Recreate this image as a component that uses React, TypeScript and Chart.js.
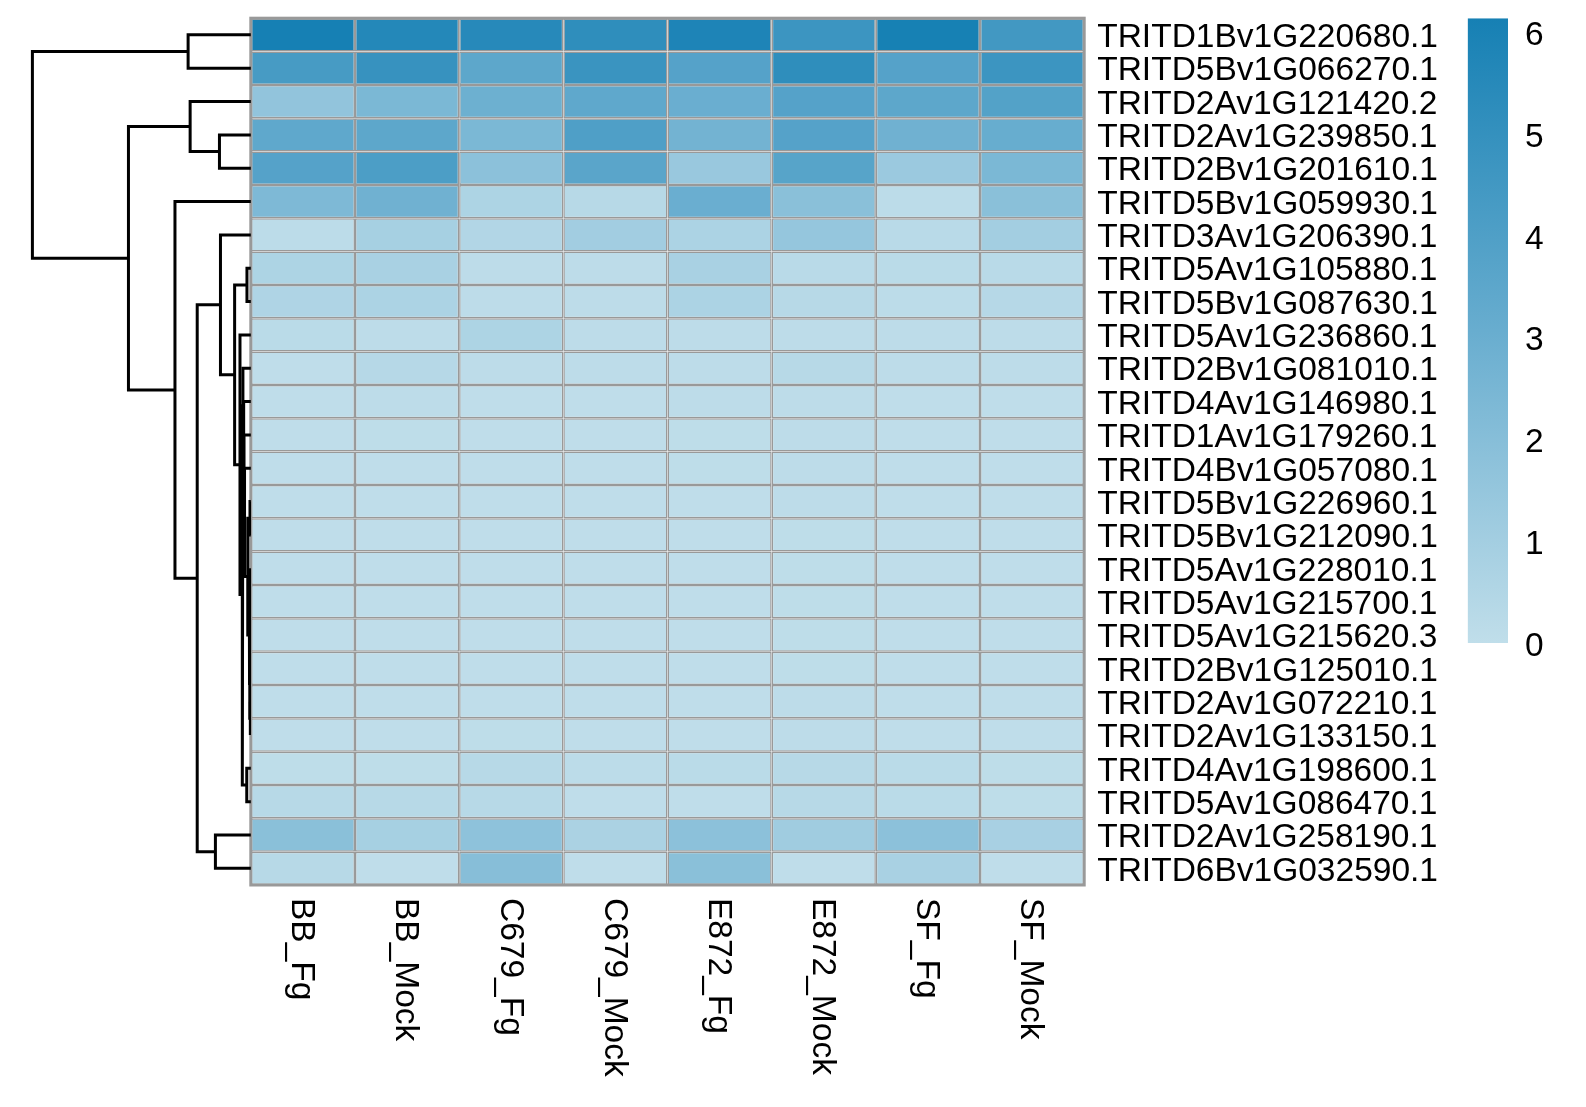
import React, { useEffect, useRef } from "react";
import { Chart, registerables } from "chart.js";

Chart.register(...registerables);

// ---------------- data ----------------
const samples = ["BB_Fg", "BB_Mock", "C679_Fg", "C679_Mock", "E872_Fg", "E872_Mock", "SF_Fg", "SF_Mock"];

const genes = [
  "TRITD1Bv1G220680.1",
  "TRITD5Bv1G066270.1",
  "TRITD2Av1G121420.2",
  "TRITD2Av1G239850.1",
  "TRITD2Bv1G201610.1",
  "TRITD5Bv1G059930.1",
  "TRITD3Av1G206390.1",
  "TRITD5Av1G105880.1",
  "TRITD5Bv1G087630.1",
  "TRITD5Av1G236860.1",
  "TRITD2Bv1G081010.1",
  "TRITD4Av1G146980.1",
  "TRITD1Av1G179260.1",
  "TRITD4Bv1G057080.1",
  "TRITD5Bv1G226960.1",
  "TRITD5Bv1G212090.1",
  "TRITD5Av1G228010.1",
  "TRITD5Av1G215700.1",
  "TRITD5Av1G215620.3",
  "TRITD2Bv1G125010.1",
  "TRITD2Av1G072210.1",
  "TRITD2Av1G133150.1",
  "TRITD4Av1G198600.1",
  "TRITD5Av1G086470.1",
  "TRITD2Av1G258190.1",
  "TRITD6Bv1G032590.1",
];

// one row per gene, columns in the order of `samples`
const expression: number[][] = [
  [6.14, 5.6, 5.5, 5.2, 5.85, 4.7, 6.1, 4.5],
  [4.3, 4.9, 3.5, 4.8, 3.8, 5.2, 3.8, 4.7],
  [1.6, 2.4, 2.9, 3.4, 3.0, 3.8, 3.5, 3.85],
  [3.4, 3.5, 2.4, 4.0, 2.7, 3.8, 2.8, 3.1],
  [3.8, 4.1, 1.8, 3.6, 1.35, 3.7, 1.3, 2.4],
  [2.3, 2.8, 0.65, 0.3, 3.0, 1.9, 0.15, 1.9],
  [0.15, 0.9, 0.5, 1.05, 0.7, 1.5, 0.25, 1.0],
  [0.65, 0.8, 0.1, 0.1, 0.8, 0.25, 0.2, 0.25],
  [0.6, 0.7, 0.1, 0.1, 0.7, 0.3, 0.15, 0.35],
  [0.2, 0.1, 0.65, 0.1, 0.1, 0.1, 0.1, 0.1],
  [0.05, 0.35, 0.1, 0.1, 0.1, 0.3, 0.1, 0.1],
  [0.05, 0.1, 0.05, 0.05, 0.1, 0.1, 0.05, 0.05],
  [0.05, 0.07, 0.05, 0.05, 0.07, 0.1, 0.05, 0.05],
  [0.05, 0.05, 0.05, 0.05, 0.07, 0.1, 0.05, 0.05],
  [0.05, 0.05, 0.05, 0.05, 0.05, 0.1, 0.05, 0.05],
  [0.05, 0.05, 0.05, 0.05, 0.05, 0.08, 0.05, 0.05],
  [0.05, 0.05, 0.05, 0.05, 0.05, 0.08, 0.05, 0.05],
  [0.05, 0.05, 0.05, 0.05, 0.05, 0.08, 0.05, 0.05],
  [0.05, 0.05, 0.05, 0.05, 0.05, 0.08, 0.05, 0.05],
  [0.05, 0.05, 0.05, 0.05, 0.05, 0.08, 0.05, 0.05],
  [0.05, 0.05, 0.05, 0.05, 0.05, 0.1, 0.05, 0.05],
  [0.05, 0.05, 0.07, 0.05, 0.05, 0.1, 0.05, 0.05],
  [0.07, 0.07, 0.3, 0.15, 0.2, 0.3, 0.2, 0.07],
  [0.3, 0.3, 0.3, 0.04, 0.04, 0.3, 0.2, 0.07],
  [1.9, 0.9, 1.75, 0.75, 1.8, 1.1, 1.8, 0.85],
  [0.3, 0.05, 2.0, 0.05, 1.9, 0.05, 0.8, 0.05],
];

const legendTicks = [0, 1, 2, 3, 4, 5, 6];

// colour ramp: low, middle, high
const colorStops: [number, number, number][] = [
  [192, 222, 234],
  [104, 173, 207],
  [22, 128, 180],
];

// row dendrogram, hclust style: negative = leaf (1-based row), positive = earlier merge step
const treeMerges: [number, number, number][] = [
  [-1, -2, 62],
  [-4, -5, 31],
  [-3, 2, 60],
  [-8, -9, 3.8],
  [-17, -18, 0.6],
  [-19, -20, 0.5],
  [-21, -22, 0.7],
  [6, 7, 1.0],
  [5, 8, 1.5],
  [-15, -16, 0.8],
  [10, 9, 3.0],
  [-14, 11, 6.2],
  [-13, 12, 6.8],
  [-12, 13, 7.3],
  [-11, 14, 7.8],
  [-23, -24, 4.0],
  [15, 16, 8.4],
  [-10, 17, 10.7],
  [4, 18, 16],
  [-7, 19, 30],
  [-25, -26, 35],
  [20, 21, 53],
  [-6, 22, 75],
  [3, 23, 121],
  [1, 24, 216],
];

// ---------------- helpers ----------------
const maxVal = Math.max(...expression.flat());
const minVal = 0;

function colorFor(v: number): string {
  const t = Math.max(0, Math.min(1, (v - minVal) / (maxVal - minVal)));
  const seg = t <= 0.5 ? 0 : 1;
  const lt = t <= 0.5 ? t / 0.5 : (t - 0.5) / 0.5;
  const a = colorStops[seg];
  const b = colorStops[seg + 1];
  const c = a.map((x, i) => Math.round(x + (b[i] - x) * lt));
  return `rgb(${c[0]},${c[1]},${c[2]})`;
}
const rgb = (c: number[]) => `rgb(${c[0]},${c[1]},${c[2]})`;

const FONT = "'Liberation Sans', Arial, Helvetica, sans-serif";
const FONT_SIZE = 33.5;
const W = 1586;
const H = 1107;
const HM = { left: 250.8, right: 1084.2, top: 18.2, bottom: 885 };
const DEND_LEFT = 32.4;
const LEG = { left: 1467.6, right: 1508, top: 18.2, bottom: 643 };

const HM_CANVAS = { left: 240, width: 1200 };
const DEND_CANVAS = { left: 0, width: 251 };
const LEG_CANVAS = { left: 1440, width: 146, height: 700 };

export default function App() {
  const heatRef = useRef<HTMLCanvasElement | null>(null);
  const dendRef = useRef<HTMLCanvasElement | null>(null);
  const legRef = useRef<HTMLCanvasElement | null>(null);

  useEffect(() => {
    const charts: Chart[] = [];

    // ---------- heatmap ----------
    const colLabelPlugin = {
      id: "colLabels",
      afterDraw(chart: any) {
        const ctx = chart.ctx;
        const xs = chart.scales.x;
        ctx.save();
        ctx.font = `${FONT_SIZE}px ${FONT}`;
        ctx.fillStyle = "#000";
        ctx.textAlign = "left";
        ctx.textBaseline = "middle";
        samples.forEach((s, i) => {
          const x = xs.getPixelForValue(i) - 1.5;
          ctx.save();
          ctx.translate(x, chart.chartArea.bottom + 13);
          ctx.rotate(Math.PI / 2);
          ctx.fillText(s, 0, 0);
          ctx.restore();
        });
        ctx.restore();
      },
    };
    const framePlugin = {
      id: "frame",
      afterDatasetsDraw(chart: any) {
        const { ctx, chartArea: ca } = chart;
        ctx.save();
        ctx.strokeStyle = "#999999";
        ctx.lineWidth = 3;
        ctx.strokeRect(ca.left, ca.top, ca.right - ca.left, ca.bottom - ca.top);
        ctx.restore();
      },
    };

    if (heatRef.current) {
      charts.push(
        new Chart(heatRef.current, {
          type: "bar",
          data: {
            labels: samples,
            datasets: genes.map((g, i) => ({
              label: g,
              data: samples.map(() => 1),
              backgroundColor: expression[i].map(colorFor),
              borderColor: "#999999",
              borderWidth: 1.5,
              borderSkipped: false,
              inflateAmount: 0,
              barPercentage: 1,
              categoryPercentage: 1,
            })),
          },
          options: {
            animation: false,
            responsive: false,
            devicePixelRatio: 1,
            events: [],
            layout: {
              padding: {
                left: HM.left - HM_CANVAS.left,
                top: HM.top,
                right: 0,
                bottom: H - HM.bottom,
              },
            },
            plugins: { legend: { display: false }, tooltip: { enabled: false } },
            scales: {
              x: { stacked: true, display: false },
              y: {
                stacked: true,
                position: "right",
                reverse: true,
                min: 0,
                max: genes.length,
                grid: { display: false, drawTicks: false },
                border: { display: false },
                afterBuildTicks: (axis: any) => {
                  axis.ticks = genes.map((_, i) => ({ value: i + 0.5 }));
                },
                afterFit: (axis: any) => {
                  axis.width = HM_CANVAS.width - (HM.right - HM_CANVAS.left);
                  axis.paddingTop = 0;
                  axis.paddingBottom = 0;
                },
                ticks: {
                  autoSkip: false,
                  padding: 13,
                  labelOffset: 3,
                  color: "#000",
                  font: { family: FONT, size: FONT_SIZE, lineHeight: 1 },
                  callback: (_v: any, idx: number) => genes[idx],
                },
              },
            },
          },
          plugins: [framePlugin, colLabelPlugin],
        } as any)
      );
    }

    // ---------- dendrogram ----------
    if (dendRef.current) {
      const nodeY: number[] = [];
      const nodeH: number[] = [];
      const pos = (ref: number) =>
        ref < 0 ? { y: -ref - 0.5, h: 0 } : { y: nodeY[ref - 1], h: nodeH[ref - 1] };
      const segs = treeMerges.map(([a, b, h]) => {
        const pa = pos(a);
        const pb = pos(b);
        nodeY.push((pa.y + pb.y) / 2);
        nodeH.push(h);
        return [
          { x: pa.h, y: pa.y },
          { x: h, y: pa.y },
          { x: h, y: pb.y },
          { x: pb.h, y: pb.y },
        ];
      });
      const rootH = Math.max(...treeMerges.map((m) => m[2]));
      charts.push(
        new Chart(dendRef.current, {
          type: "scatter",
          data: {
            datasets: segs.map((pts) => ({
              data: pts,
              showLine: true,
              borderColor: "#000",
              borderWidth: 3,
              pointRadius: 0,
              tension: 0,
              clip: false,
              borderJoinStyle: "miter",
              borderCapStyle: "butt",
            })),
          },
          options: {
            animation: false,
            responsive: false,
            devicePixelRatio: 1,
            events: [],
            layout: {
              padding: {
                left: DEND_LEFT - DEND_CANVAS.left,
                right: DEND_CANVAS.width - (HM.left - DEND_CANVAS.left),
                top: HM.top,
                bottom: H - HM.bottom,
              },
            },
            plugins: { legend: { display: false }, tooltip: { enabled: false } },
            scales: {
              x: { type: "linear", display: false, reverse: true, min: 0, max: rootH },
              y: { type: "linear", display: false, reverse: true, min: 0, max: genes.length },
            },
          },
        } as any)
      );
    }

    // ---------- colour legend ----------
    if (legRef.current) {
      charts.push(
        new Chart(legRef.current, {
          type: "bar",
          data: {
            labels: ["scale"],
            datasets: [
              {
                data: [maxVal],
                borderWidth: 0,
                barPercentage: 1,
                categoryPercentage: 1,
                inflateAmount: 0,
                backgroundColor: (c: any) => {
                  const ca = c.chart.chartArea;
                  if (!ca) return rgb(colorStops[0]);
                  const g = c.chart.ctx.createLinearGradient(0, ca.bottom, 0, ca.top);
                  g.addColorStop(0, rgb(colorStops[0]));
                  g.addColorStop(0.5, rgb(colorStops[1]));
                  g.addColorStop(1, rgb(colorStops[2]));
                  return g;
                },
              },
            ],
          },
          options: {
            animation: false,
            responsive: false,
            devicePixelRatio: 1,
            events: [],
            layout: {
              padding: {
                left: LEG.left - LEG_CANVAS.left,
                right: 0,
                top: LEG.top,
                bottom: LEG_CANVAS.height - LEG.bottom,
              },
            },
            plugins: { legend: { display: false }, tooltip: { enabled: false } },
            scales: {
              x: { display: false },
              y: {
                position: "right",
                min: 0,
                max: maxVal,
                grid: { display: false, drawTicks: false },
                border: { display: false },
                afterBuildTicks: (axis: any) => {
                  axis.ticks = legendTicks.map((v) => ({ value: v }));
                },
                afterFit: (axis: any) => {
                  axis.width = LEG_CANVAS.width - (LEG.right - LEG_CANVAS.left);
                  axis.paddingTop = 0;
                  axis.paddingBottom = 0;
                },
                ticks: {
                  autoSkip: false,
                  padding: 17,
                  labelOffset: 3.5,
                  color: "#000",
                  font: { family: FONT, size: FONT_SIZE, lineHeight: 1 },
                  callback: (v: any) => String(v),
                },
              },
            },
          },
        } as any)
      );
    }

    return () => charts.forEach((c) => c.destroy());
  }, []);

  const abs = (left: number, width: number, height: number): React.CSSProperties => ({
    position: "absolute",
    left,
    top: 0,
    width,
    height,
  });

  return (
    <div style={{ position: "absolute", left: 0, top: 0, width: W, height: H, background: "#fff", overflow: "hidden" }}>
      <canvas ref={heatRef} width={HM_CANVAS.width} height={H} style={abs(HM_CANVAS.left, HM_CANVAS.width, H)} />
      <canvas ref={dendRef} width={DEND_CANVAS.width} height={H} style={abs(DEND_CANVAS.left, DEND_CANVAS.width, H)} />
      <canvas ref={legRef} width={LEG_CANVAS.width} height={LEG_CANVAS.height} style={abs(LEG_CANVAS.left, LEG_CANVAS.width, LEG_CANVAS.height)} />
    </div>
  );
}
